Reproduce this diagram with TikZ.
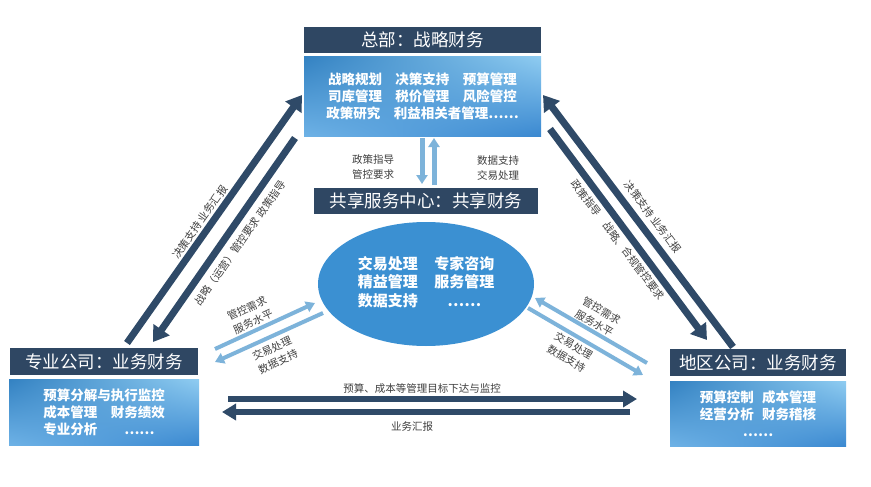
\documentclass[tikz,border=0pt]{standalone}
\usepackage{fontspec}
\setmainfont{Noto Sans CJK SC}
\usetikzlibrary{positioning,arrows.meta,shapes.geometric,shadings}
\definecolor{navy}{HTML}{2F4763}
\definecolor{darrow}{HTML}{2F4A68}
\definecolor{larrow}{HTML}{7DB3DA}
\definecolor{oval}{HTML}{3B90D2}
\definecolor{labelgray}{HTML}{404040}

\begin{document}
\begin{tikzpicture}[x=1pt,y=-1pt,
        head style/.style={fill=navy,text=white,inner sep=0pt,minimum height=26pt,font=\fontsize{17.5}{20}\selectfont},
        body style/.style={upper left=blue!45!cyan!70!black!80,upper right={rgb,255:red,143;green,204;blue,241},
            lower left={rgb,255:red,110;green,178;blue,230},lower right={rgb,255:red,58;green,136;blue,208},
            text=white,inner sep=0pt,font=\bfseries\fontsize{13.5}{17}\selectfont},
        label style/.style={text=labelgray,inner sep=0pt,align=center,font=\fontsize{10.5}{14.5}\selectfont},
        thick arrow/.style={draw=darrow,line width=7pt,-{Triangle[width=19pt,length=15pt]}},
        flat arrow/.style={draw=darrow,line width=6pt,-{Triangle[width=16pt,length=14pt]}},
        thin arrow/.style={draw=larrow,line width=4pt,-{Triangle[width=11pt,length=9pt]}}]
        \fill[white] (0,0) rectangle (871,487);
        \useasboundingbox (0,0) rectangle (871,487);

        % boxes
        \node[head style,minimum width=237pt] (zb) at (422.5,40) {总部：战略财务};
        \node[body style,minimum width=237pt,minimum height=80pt,align=center,below=3pt of zb] (zbn)
            {战略规划\quad 决策支持\quad 预算管理\\司库管理\quad 税价管理\quad 风险管控\\政策研究\quad 利益相关者管理……};
        \node[head style,minimum width=224pt] (gx) at (426,201) {共享服务中心：共享财务};
        \node[ellipse,fill=oval,text=white,minimum width=216pt,minimum height=124pt,inner sep=0pt,
            font=\bfseries\fontsize{15}{18.5}\selectfont] (gxn) at (426,284)
            {\begin{tabular}{@{}l@{\hspace{1.1em}}c@{}}交易处理 & 专家咨询\\精益管理 & 服务管理\\数据支持 & ……\end{tabular}};
        \node[head style,minimum width=188pt,minimum height=27pt] (zy) at (104,361.5) {专业公司：业务财务};
        \node[body style,minimum width=190pt,minimum height=66pt,align=left,below=4pt of zy] (zyn)
            {预算分解与执行监控\\成本管理\quad 财务绩效\\专业分析\qquad ……};
        \node[head style,minimum width=176pt,minimum height=27pt] (dq) at (758,362.5) {地区公司：业务财务};
        \node[body style,minimum width=176pt,minimum height=65pt,align=center,below=5pt of dq] (dqn)
            {预算控制\hspace{0.6em}成本管理\\经营分析\hspace{0.6em}财务稽核\\……};

        % arrow ends
        \coordinate (a1) at (127,343);  \coordinate (a2) at (302,95);
        \coordinate (b1) at (295,138);  \coordinate (b2) at (153,342);
        \coordinate (c1) at (733,347);  \coordinate (c2) at (543,95);
        \coordinate (d1) at (550,129);  \coordinate (d2) at (707,340);
        \coordinate (e1) at (422,138);  \coordinate (e2) at (422,184);
        \coordinate (f1) at (434,185);  \coordinate (f2) at (434,138);
        \coordinate (g1) at (215,349);  \coordinate (g2) at (315,303);
        \coordinate (h1) at (323,313);  \coordinate (h2) at (215,362);
        \coordinate (i1) at (647,363);  \coordinate (i2) at (535,298);
        \coordinate (j1) at (528,308);  \coordinate (j2) at (643,375);
        \coordinate (k1) at (228,399);  \coordinate (k2) at (637,399);
        \coordinate (m1) at (630,412);  \coordinate (m2) at (222,412);

        \draw[thick arrow] (a1) -- (a2);
        \draw[thick arrow] (b1) -- (b2);
        \draw[thick arrow] (c1) -- (c2);
        \draw[thick arrow] (d1) -- (d2);
        \draw[thin arrow,line width=5pt] (e1) -- (e2);
        \draw[thin arrow,line width=5pt] (f1) -- (f2);
        \draw[thin arrow] (g1) -- (g2);
        \draw[thin arrow] (h1) -- (h2);
        \draw[thin arrow] (i1) -- (i2);
        \draw[thin arrow] (j1) -- (j2);
        \draw[flat arrow] (k1) -- (k2);
        \draw[flat arrow] (m1) -- (m2);

        % labels
        \node[label style,rotate=55] (la1) at (200,222) {决策支持 业务汇报};
        \node[label style,rotate=55] (lb1) at (240,243) {战略（运营）管控要求 政策指导};
        \node[label style,rotate=-53] (lc1) at (653,217) {决策支持 业务汇报};
        \node[label style,rotate=-53] (ld1) at (618,240) {政策指导\quad 战略、合规管控要求};
        \node[label style] (le1) at (373,167) {政策指导\\管控要求};
        \node[label style] (lf1) at (498,168) {数据支持\\交易处理};
        \node[label style,rotate=25] (lg1) at (250,315) {管控需求\\服务水平};
        \node[label style,rotate=25] (lh1) at (275,355) {交易处理\\数据支持};
        \node[label style,rotate=-30] (li1) at (598,317) {管控需求\\服务水平};
        \node[label style,rotate=-30] (lj1) at (570,352) {交易处理\\数据支持};
        \node[label style] (lk1) at (422,389) {预算、成本等管理目标下达与监控};
        \node[label style] (lm1) at (412,427) {业务汇报};
\end{tikzpicture}
\end{document}
